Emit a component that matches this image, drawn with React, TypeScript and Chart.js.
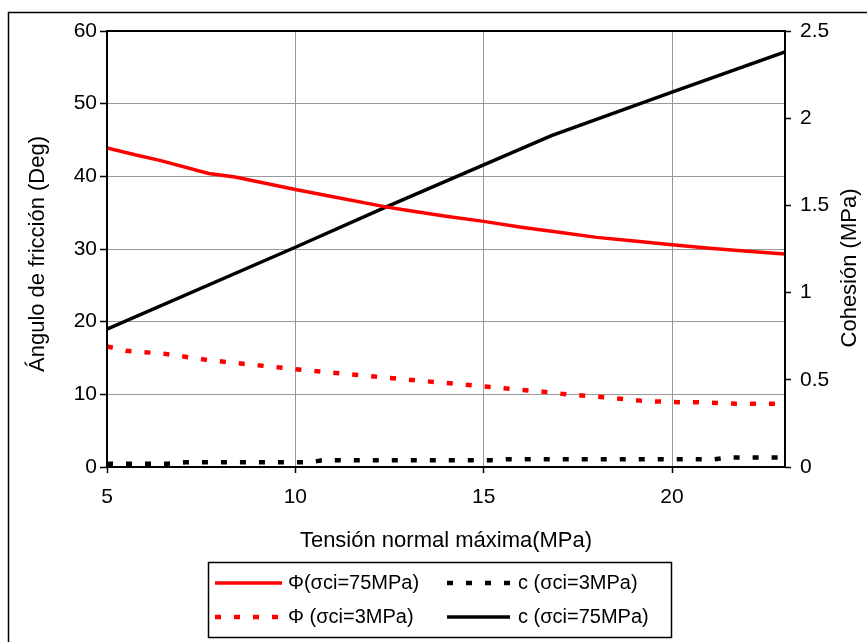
import React, { useEffect, useRef } from "react";
import { Chart, registerables } from "chart.js";

Chart.register(...registerables);

const FONT = '"Liberation Sans", Arial, Helvetica, sans-serif';

// ---- data ----
const xTickValues = [5, 10, 15, 20];

const phi75X = [5, 5.8, 6.4, 7.7, 8.4, 10, 11, 12.4, 13, 14, 15, 16, 17, 18, 19, 20, 21, 22, 23];
const phi75Y = [43.9, 42.9, 42.2, 40.4, 39.9, 38.2, 37.2, 35.8, 35.3, 34.5, 33.8, 33.0, 32.3, 31.6, 31.1, 30.6, 30.1, 29.7, 29.3];

const phi3X = [5, 5.5, 6.5, 7.7, 9.75, 10.3, 12.2, 13.7, 15.2, 16.7, 17.2, 18.2, 19.2, 20.2, 20.7, 21.7, 23];
const phi3Y = [16.6, 16.0, 15.6, 14.7, 13.6, 13.3, 12.4, 11.7, 11.0, 10.3, 10.0, 9.6, 9.1, 8.9, 8.9, 8.7, 8.7];

const c3X = [5, 6.6, 7.1, 10.4, 10.7, 15.3, 15.6, 21.1, 21.5, 23];
const c3Y = [0.019, 0.019, 0.027, 0.027, 0.038, 0.038, 0.044, 0.044, 0.055, 0.055];

const c75X = [5, 10, 12.4, 16.8, 20, 23];
const c75Y = [0.79, 1.26, 1.49, 1.9, 2.15, 2.38];

const seriesLabels = ["Φ(σci=75MPa)", "c (σci=3MPa)", "Φ (σci=3MPa)", "c (σci=75MPa)"];
const xTitle = "Tensión normal máxima(MPa)";
const yTitle = "Ángulo de fricción (Deg)";
const y2Title = "Cohesión (MPa)";

const pts = (xs: number[], ys: number[]) => xs.map((x, i) => ({ x, y: ys[i] }));

const DASH = [6, 13];

const decor = {
  id: "decor",
  afterDraw(chart: any) {
    const ctx = chart.ctx as CanvasRenderingContext2D;
    const a = chart.chartArea;
    ctx.save();
    // outer frame (cropped)
    ctx.strokeStyle = "#000";
    ctx.lineWidth = 1.5;
    ctx.beginPath();
    ctx.moveTo(8.5, 642);
    ctx.lineTo(8.5, 12.5);
    ctx.lineTo(867, 12.5);
    ctx.stroke();
    // plot frame
    ctx.lineWidth = 2;
    ctx.strokeRect(a.left, a.top, a.right - a.left, a.bottom - a.top);

    // axis titles
    ctx.fillStyle = "#000";
    ctx.font = `22px ${FONT}`;
    ctx.textAlign = "center";
    ctx.textBaseline = "middle";
    ctx.fillText(xTitle, (a.left + a.right) / 2, 541);
    ctx.save();
    ctx.translate(38, 254);
    ctx.rotate(-Math.PI / 2);
    ctx.fillText(yTitle, 0, 0);
    ctx.restore();
    ctx.save();
    ctx.translate(850, 268);
    ctx.rotate(-Math.PI / 2);
    ctx.fillText(y2Title, 0, 0);
    ctx.restore();

    // legend
    ctx.lineWidth = 1.5;
    ctx.strokeStyle = "#000";
    ctx.strokeRect(208.5, 562.5, 463, 75);
    const cols = [
      { s: 215, e: 282, t: 288 },
      { s: 447, e: 510, t: 518 },
    ];
    const rows = [583, 617];
    ctx.font = `20px ${FONT}`;
    ctx.textAlign = "left";
    chart.data.datasets.forEach((ds: any, i: number) => {
      const c = cols[i % 2];
      const y = rows[Math.floor(i / 2)];
      ctx.save();
      ctx.strokeStyle = ds.borderColor;
      ctx.lineWidth = ds.borderWidth;
      ctx.lineCap = "butt";
      ctx.setLineDash(ds.borderDash || []);
      ctx.beginPath();
      ctx.moveTo(c.s, y);
      ctx.lineTo(c.e, y);
      ctx.stroke();
      ctx.restore();
      ctx.fillStyle = "#000";
      ctx.fillText(ds.label, c.t, y);
    });
    ctx.restore();
  },
};

export default function App() {
  const ref = useRef<HTMLCanvasElement | null>(null);
  useEffect(() => {
    if (!ref.current) return;
    const tickFont = { family: FONT, size: 21 };
    const plain = (v: any) => String(v);
    const chart = new Chart(ref.current, {
      type: "line",
      data: {
        datasets: [
          {
            label: seriesLabels[0],
            data: pts(phi75X, phi75Y),
            borderColor: "#ff0000",
            borderWidth: 3.5,
            yAxisID: "y",
            pointRadius: 0,
            tension: 0,
          },
          {
            label: seriesLabels[1],
            data: pts(c3X, c3Y),
            borderColor: "#000000",
            borderWidth: 4.5,
            borderDash: DASH,
            borderCapStyle: "butt",
            yAxisID: "y2",
            pointRadius: 0,
            tension: 0,
          },
          {
            label: seriesLabels[2],
            data: pts(phi3X, phi3Y),
            borderColor: "#ff0000",
            borderWidth: 4.5,
            borderDash: DASH,
            borderCapStyle: "butt",
            yAxisID: "y",
            pointRadius: 0,
            tension: 0,
          },
          {
            label: seriesLabels[3],
            data: pts(c75X, c75Y),
            borderColor: "#000000",
            borderWidth: 3.5,
            yAxisID: "y2",
            pointRadius: 0,
            tension: 0,
          },
        ] as any,
      },
      options: {
        animation: false,
        responsive: false,
        devicePixelRatio: 1,
        layout: { padding: { top: 31, left: 0, right: 0, bottom: 0 } },
        plugins: { legend: { display: false }, tooltip: { enabled: false } },
        scales: {
          x: {
            type: "linear",
            min: 5,
            max: 23,
            afterBuildTicks: (s: any) => {
              s.ticks = xTickValues.map((v) => ({ value: v }));
            },
            afterFit: (s: any) => {
              s.height = 175;
            },
            ticks: { font: tickFont, color: "#000", padding: 12, maxRotation: 0, autoSkip: false, callback: plain },
            grid: { color: "#999999", lineWidth: 1, tickLength: 6, tickColor: "#000", tickWidth: 1.5 },
            border: { display: false },
          },
          y: {
            position: "left",
            min: 0,
            max: 60,
            afterFit: (s: any) => {
              s.width = 107;
            },
            ticks: { stepSize: 10, font: tickFont, color: "#000", padding: 3, callback: plain },
            grid: { color: "#999999", lineWidth: 1, tickLength: 7, tickColor: "#000", tickWidth: 1.5 },
            border: { display: false },
          },
          y2: {
            position: "right",
            min: 0,
            max: 2.5,
            afterFit: (s: any) => {
              s.width = 82;
            },
            ticks: { stepSize: 0.5, font: tickFont, color: "#000", padding: 9, callback: plain },
            grid: { drawOnChartArea: false, tickLength: 6, tickColor: "#000", tickWidth: 1.5 },
            border: { display: false },
          },
        },
      } as any,
      plugins: [decor],
    });
    return () => chart.destroy();
  }, []);
  return (
    <div style={{ position: "fixed", left: 0, top: 0, width: 867, height: 642, background: "#fff" }}>
      <canvas ref={ref} width={867} height={642} style={{ display: "block", width: 867, height: 642 }} />
    </div>
  );
}
